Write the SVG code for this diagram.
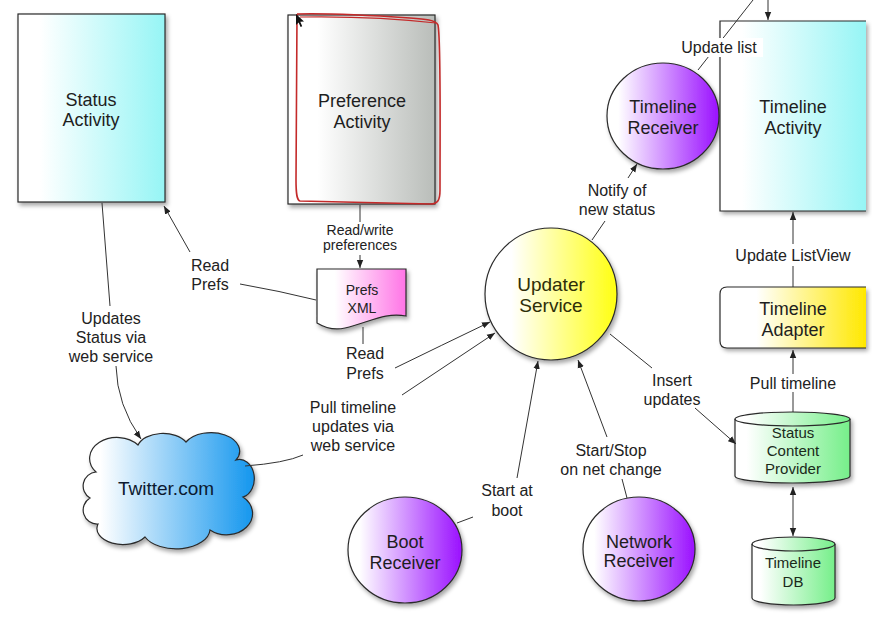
<svg xmlns="http://www.w3.org/2000/svg" width="872" height="621" viewBox="0 0 872 621">
<defs>
  <linearGradient id="gCyan" x1="0" y1="0" x2="1" y2="0"><stop offset="0.15" stop-color="#ffffff"/><stop offset="1" stop-color="#96f5f5"/></linearGradient>
  <linearGradient id="gGrey" x1="0" y1="0" x2="1" y2="0"><stop offset="0.2" stop-color="#ffffff"/><stop offset="1" stop-color="#b9bdb9"/></linearGradient>
  <linearGradient id="gPink" x1="0" y1="0" x2="1" y2="0"><stop offset="0.2" stop-color="#ffffff"/><stop offset="1" stop-color="#ff74e6"/></linearGradient>
  <linearGradient id="gYellow" x1="0" y1="0" x2="1" y2="0"><stop offset="0.2" stop-color="#ffffff"/><stop offset="1" stop-color="#ffff10"/></linearGradient>
  <linearGradient id="gAdapter" x1="0" y1="0" x2="1" y2="0"><stop offset="0.25" stop-color="#ffffff"/><stop offset="1" stop-color="#ffe800"/></linearGradient>
  <linearGradient id="gPurple" x1="0" y1="0" x2="1" y2="0"><stop offset="0.1" stop-color="#ffffff"/><stop offset="1" stop-color="#9a10ff"/></linearGradient>
  <linearGradient id="gBlue" x1="0" y1="0" x2="1" y2="0"><stop offset="0.1" stop-color="#ffffff"/><stop offset="1" stop-color="#1396ee"/></linearGradient>
  <linearGradient id="gGreen" x1="0" y1="0" x2="1" y2="0"><stop offset="0.1" stop-color="#ffffff"/><stop offset="1" stop-color="#76ef8a"/></linearGradient>
  <filter id="shadow" x="-10%" y="-10%" width="130%" height="130%">
    <feDropShadow dx="2" dy="3" stdDeviation="2" flood-color="#000" flood-opacity="0.35"/>
  </filter>
  <marker id="arrow" viewBox="0 0 10 8" refX="10" refY="4" markerWidth="8" markerHeight="8" markerUnits="userSpaceOnUse" orient="auto-start-reverse">
    <path d="M0,0 L10,4 L0,8 z" fill="#222"/>
  </marker>
  <style>
    text { font-family: "Liberation Sans", Arial, sans-serif; text-anchor: middle; }
    .node { font-size: 18px; fill: #1e1e1e; }
    .lbl { font-size: 16px; fill: #222; }
    .small { font-size: 14px; fill: #222; }
    .shape { stroke: #2a2a2a; stroke-width: 1.2; filter: url(#shadow); }
    .conn { fill: none; stroke: #333; stroke-width: 1; }
    .arr { marker-end: url(#arrow); }
  </style>
</defs>
<rect width="872" height="621" fill="#ffffff"/>

<g id="status-activity">
  <rect class="shape" x="18" y="14" width="147" height="188" fill="url(#gCyan)"/>
  <text class="node" x="91" y="106" fill="#1a2a2a">Status</text>
  <text class="node" x="91" y="126" fill="#1a2a2a">Activity</text>
</g>

<g id="preference-activity">
  <rect class="shape" x="288" y="15" width="147" height="189" fill="url(#gGrey)"/>
  <path d="M297,14 C330,13 380,16 410,18 C425,19 436,20 438,25 C441,40 440,120 440,190 C440,200 438,204 430,204 L300,201 C297,200 296,195 296,180 L297,14" fill="none" stroke="#c42a2a" stroke-width="1.6"/>
  <path d="M300,17 C360,16 410,20 436,23" fill="none" stroke="#c42a2a" stroke-width="1.2"/>
  <path d="M296,14 L296,25 L298.6,22.4 L300.6,27 L302.2,26.2 L300.3,21.8 L304,21.6 Z" fill="#111"/>
  <text class="node" x="362" y="107">Preference</text>
  <text class="node" x="362" y="128">Activity</text>
</g>

<g id="prefs-xml">
  <path class="shape" d="M317,269 L406,269 L406,316 C385,312 370,322 345,328 C332,331 322,326 317,323 Z" fill="url(#gPink)"/>
  <text class="small" x="362" y="295" fill="#5e2270">Prefs</text>
  <text class="small" x="362" y="313" fill="#5e2270">XML</text>
</g>

<g id="twitter">
  <path class="shape" d="M96,472 A26,20 0 0 1 138,445 A26,16 0 0 1 186,442 A28,18 0 0 1 236,460 A14,18 0 0 1 243,497 A22,18 0 0 1 210,530 A34,20 0 0 1 145,537 A26,16 0 0 1 98,524 A14,14 0 0 1 90,498 A14,14 0 0 1 96,472 Z" fill="url(#gBlue)"/>
  <text x="166" y="495" font-size="19" fill="#0c1a30">Twitter.com</text>
</g>

<g id="updater-service">
  <circle class="shape" cx="551" cy="294" r="66" fill="url(#gYellow)"/>
  <text x="551" y="291" font-size="19" fill="#2e2e08">Updater</text>
  <text x="551" y="312" font-size="19" fill="#2e2e08">Service</text>
</g>

<g id="timeline-receiver">
  <ellipse class="shape" cx="663" cy="116" rx="56" ry="53" fill="url(#gPurple)"/>
  <text class="node" x="663" y="113" fill="#3a1448">Timeline</text>
  <text class="node" x="663" y="134" fill="#3a1448">Receiver</text>
</g>

<g id="timeline-activity">
  <rect x="720" y="21" width="146" height="190" fill="url(#gCyan)" filter="url(#shadow)"/>
  <path d="M866,21 L720,21 L720,211 L866,211" fill="none" stroke="#2a2a2a" stroke-width="1.2"/>
  <text class="node" x="793" y="113">Timeline</text>
  <text class="node" x="793" y="134">Activity</text>
</g>

<g id="timeline-adapter">
  <path d="M866,287 L727,287 Q720,287 720,294 L720,341 Q720,348 727,348 L866,348 Z" fill="url(#gAdapter)" filter="url(#shadow)"/>
  <path d="M866,287 L727,287 Q720,287 720,294 L720,341 Q720,348 727,348 L866,348" fill="none" stroke="#2a2a2a" stroke-width="1.2"/>
  <text class="node" x="793" y="315">Timeline</text>
  <text class="node" x="793" y="336">Adapter</text>
</g>

<g id="status-content-provider">
  <path class="shape" d="M735,419 L735,476 A57.5,7 0 0 0 850,476 L850,419 A57.5,7 0 0 0 735,419 Z" fill="url(#gGreen)"/>
  <path d="M735,419 A57.5,7 0 0 0 850,419" fill="none" stroke="#2a2a2a" stroke-width="1.2"/>
  <text x="793" y="438" font-size="15" fill="#1a2a1a">Status</text>
  <text x="793" y="456" font-size="15" fill="#1a2a1a">Content</text>
  <text x="793" y="474" font-size="15" fill="#1a2a1a">Provider</text>
</g>

<g id="timeline-db">
  <path class="shape" d="M752,544 L752,598 A41.5,7 0 0 0 835,598 L835,544 A41.5,7 0 0 0 752,544 Z" fill="url(#gGreen)"/>
  <path d="M752,544 A41.5,7 0 0 0 835,544" fill="none" stroke="#2a2a2a" stroke-width="1.2"/>
  <text x="793" y="568" font-size="15" fill="#1a2a1a">Timeline</text>
  <text x="793" y="587" font-size="15" fill="#1a2a1a">DB</text>
</g>

<g id="boot-receiver">
  <ellipse class="shape" cx="405" cy="550" rx="57" ry="53" fill="url(#gPurple)"/>
  <text class="node" x="405" y="548" fill="#3a1448">Boot</text>
  <text class="node" x="405" y="569" fill="#3a1448">Receiver</text>
</g>

<g id="network-receiver">
  <ellipse class="shape" cx="639" cy="549" rx="56" ry="52" fill="url(#gPurple)"/>
  <text class="node" x="639" y="548" fill="#3a1448">Network</text>
  <text class="node" x="639" y="567" fill="#3a1448">Receiver</text>
</g>

<g id="connectors">
  <path class="conn" d="M102,203 L110,306"/>
  <path class="conn arr" d="M116,366 Q117,405 141,439"/>
  <text class="lbl" x="111" y="324">Updates</text>
  <text class="lbl" x="111" y="343">Status via</text>
  <text class="lbl" x="111" y="362">web service</text>

  <path class="conn arr" d="M190,252 L164,206"/>
  <path class="conn" d="M240,284 Q280,291 316,300"/>
  <text class="lbl" x="210" y="271">Read</text>
  <text class="lbl" x="210" y="290">Prefs</text>

  <path class="conn" d="M360,205 L360,222"/>
  <path class="conn arr" d="M360,255 L360,268"/>
  <text class="small" x="360" y="235">Read/write</text>
  <text class="small" x="360" y="250">preferences</text>

  <path class="conn" d="M363,327 L363,344"/>
  <path class="conn arr" d="M395,368 Q440,346 490,322"/>
  <text class="lbl" x="365" y="359">Read</text>
  <text class="lbl" x="365" y="379">Prefs</text>

  <path class="conn" d="M245,466 Q285,463 303,455"/>
  <path class="conn arr" d="M402,395 L495,333"/>
  <text class="lbl" x="353" y="413">Pull timeline</text>
  <text class="lbl" x="353" y="432">updates via</text>
  <text class="lbl" x="353" y="451">web service</text>

  <path class="conn" d="M592,240 L605,221"/>
  <path class="conn arr" d="M628,178 L637,164"/>
  <text class="lbl" x="617" y="196">Notify of</text>
  <text class="lbl" x="617" y="215">new status</text>

  <path class="conn" d="M698,70 L753,0"/>
  <rect x="677" y="38" width="86" height="19" fill="#ffffff"/>
  <text class="lbl" x="719" y="53">Update list</text>

  <path class="conn arr" d="M768,0 L768,20"/>

  <path class="conn" d="M793,287 L793,266"/>
  <path class="conn arr" d="M793,244 L793,212"/>
  <text class="lbl" x="793" y="261">Update ListView</text>

  <path class="conn" d="M793,412 L793,392"/>
  <path class="conn arr" d="M793,374 L793,350"/>
  <text class="lbl" x="793" y="389">Pull timeline</text>

  <path class="conn" d="M793,487 L793,536" marker-start="url(#arrow)" marker-end="url(#arrow)"/>

  <path class="conn" d="M610,334 L652,368"/>
  <path class="conn arr" d="M695,408 L736,444"/>
  <text class="lbl" x="672" y="386">Insert</text>
  <text class="lbl" x="672" y="405">updates</text>

  <path class="conn" d="M627,498 L622,479"/>
  <path class="conn arr" d="M607,437 L578,360"/>
  <text class="lbl" x="611" y="456">Start/Stop</text>
  <text class="lbl" x="611" y="475">on net change</text>

  <path class="conn" d="M457,523 L473,517"/>
  <path class="conn arr" d="M517,478 L538,361"/>
  <text class="lbl" x="507" y="496">Start at</text>
  <text class="lbl" x="507" y="516">boot</text>
</g>
</svg>
